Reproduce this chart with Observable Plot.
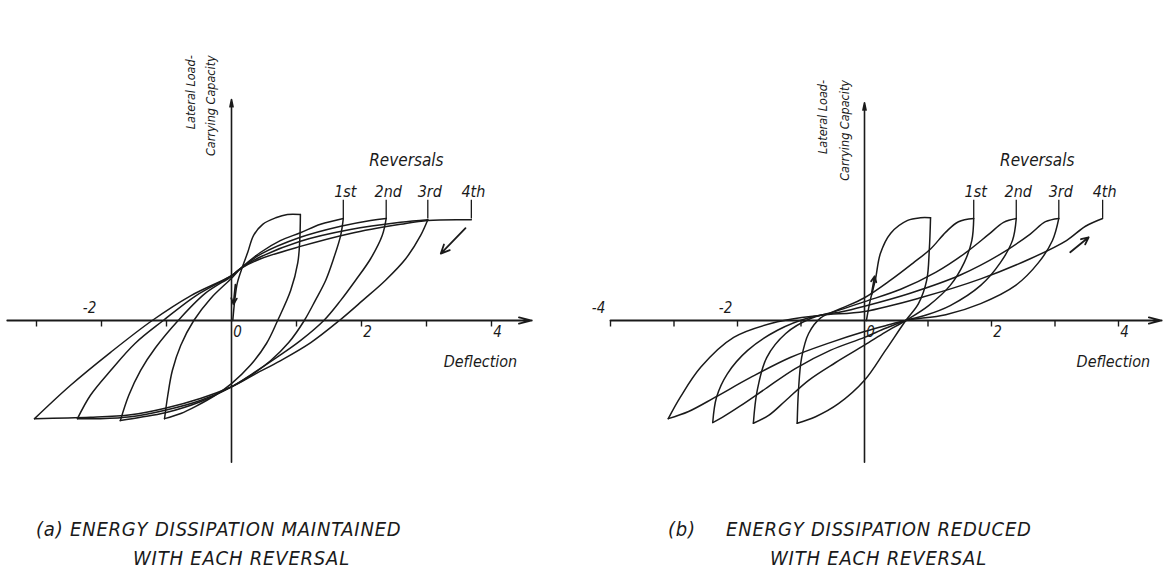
<!DOCTYPE html>
<html><head><meta charset="utf-8">
<script src="https://cdn.jsdelivr.net/npm/d3@7"></script>
<script src="https://cdn.jsdelivr.net/npm/@observablehq/plot@0.6"></script>
<style>
html,body{margin:0;padding:0;background:#fff;}
#wrap{position:relative;width:1166px;height:575px;overflow:hidden;background:#fff;}
.panel{position:absolute;top:0;}
.cap{position:absolute;font-family:"Liberation Sans Narrow","DejaVu Sans Condensed","DejaVu Sans",sans-serif;font-style:italic;font-size:20px;letter-spacing:0.8px;color:#1a1a1a;white-space:pre;line-height:1;}
</style></head><body><div id="wrap"></div>
<script>
// ---------- data (deflection units on x, load units on y) ----------
const ORDINALS = ["1st", "2nd", "3rd", "4th"];
const Y_TITLE = ["Lateral Load-", "Carrying Capacity"];

// Panel (a): energy dissipation maintained
const A_INITIAL = [[0.02,0],[0.05,0.31],[0.09,0.58],[0.17,0.83],[0.25,1.05],[0.34,1.31],[0.48,1.48],[0.68,1.58],[0.86,1.63],[1.06,1.63]];
const A_DOWN0 = [[1.06,1.63],[1.05,1.23],[1.02,0.89],[0.91,0.46],[0.71,0],[0.54,-0.35],[0.29,-0.69],[0,-0.97],[-0.25,-1.15],[-0.55,-1.32],[-0.78,-1.43],[-1.03,-1.51]];
const A_UP1 = [[-1.03,-1.51],[-0.98,-1.15],[-0.91,-0.77],[-0.78,-0.38],[-0.58,0],[-0.32,0.34],[0,0.65],[0.14,0.80],[0.45,1.05],[0.75,1.23],[1.06,1.35],[1.37,1.48],[1.72,1.57]];
const A_DOWN1 = [[1.72,1.57],[1.68,1.31],[1.57,0.95],[1.45,0.62],[1.29,0.31],[1.12,0],[0.88,-0.34],[0.60,-0.62],[0.29,-0.85],[0,-1.02],[-0.48,-1.25],[-1.02,-1.42],[-1.40,-1.49],[-1.71,-1.54]];
const A_UP2 = [[-1.71,-1.54],[-1.58,-1.15],[-1.40,-0.77],[-1.17,-0.42],[-0.82,0],[-0.40,0.42],[0,0.68],[0.14,0.80],[0.45,1.02],[1.06,1.28],[1.68,1.45],[2.14,1.54],[2.38,1.57]];
const A_DOWN2 = [[2.38,1.57],[2.32,1.31],[2.14,0.95],[1.91,0.62],[1.68,0.31],[1.42,0],[1.06,-0.31],[0.68,-0.58],[0.32,-0.82],[0,-1.02],[-0.48,-1.23],[-1.02,-1.38],[-1.55,-1.48],[-2.02,-1.51],[-2.37,-1.51]];
const A_UP3 = [[-2.37,-1.51],[-2.17,-1.15],[-1.86,-0.77],[-1.48,-0.35],[-1.05,0],[-0.55,0.38],[0,0.69],[0.14,0.80],[0.45,0.98],[1.06,1.22],[1.83,1.40],[2.60,1.51],[3.02,1.55]];
const A_DOWN3 = [[3.02,1.55],[2.91,1.31],[2.68,0.95],[2.37,0.62],[2.02,0.31],[1.66,0],[1.22,-0.34],[0.75,-0.62],[0.37,-0.82],[0,-1.02],[-0.48,-1.20],[-1.02,-1.35],[-1.55,-1.45],[-2.17,-1.49],[-3.03,-1.51]];
const A_UP4 = [[-3.03,-1.51],[-2.48,-1.0],[-1.86,-0.49],[-1.22,0],[-0.63,0.38],[0,0.69],[0.14,0.80],[0.45,0.95],[1.06,1.14],[1.83,1.34],[2.60,1.48],[3.02,1.54],[3.69,1.55]];
const A_PEAKS = [1.72, 2.38, 3.02, 3.69];
const A_ARROWS = [{x1:3.6,y1:1.42,x2:3.22,y2:1.03},{x1:0.06,y1:0.55,x2:0.03,y2:0.25}];
const A_TICKS = [-3,-2,-1,1,2,3,4];
const A_NEG_LABELS = [-2];
const A_POS_LABELS = [0,2,4];

// Panel (b): energy dissipation reduced
const B_INITIAL = [[0.03,0],[0.09,0.31],[0.17,0.62],[0.25,1.03],[0.41,1.34],[0.68,1.54],[0.88,1.58],[1.04,1.58]];
const B_DOWN0 = [[1.04,1.58],[1.02,1.08],[0.98,0.62],[0.85,0.26],[0.65,0],[0.33,-0.46],[0,-0.92],[-0.41,-1.28],[-0.77,-1.48],[-1.06,-1.58]];
const B_UP1 = [[-1.06,-1.58],[-1.04,-1.08],[-0.99,-0.57],[-0.88,-0.20],[-0.69,0.04],[-0.38,0.18],[0,0.35],[0.41,0.62],[0.76,0.88],[1.04,1.10],[1.28,1.36],[1.48,1.52],[1.72,1.57]];
const B_DOWN1 = [[1.72,1.57],[1.69,1.23],[1.57,0.89],[1.35,0.54],[1.01,0.23],[0.65,0],[0.33,-0.18],[0,-0.38],[-0.46,-0.65],[-0.88,-0.92],[-1.24,-1.23],[-1.51,-1.46],[-1.75,-1.58]];
const B_UP2 = [[-1.75,-1.58],[-1.69,-1.08],[-1.54,-0.57],[-1.24,-0.20],[-0.85,0.03],[-0.46,0.14],[0,0.29],[0.57,0.48],[1.12,0.74],[1.59,1.04],[1.95,1.32],[2.19,1.51],[2.39,1.57]];
const B_DOWN2 = [[2.39,1.57],[2.33,1.23],[2.14,0.89],[1.83,0.54],[1.35,0.23],[0.96,0.08],[0.65,0],[0.33,-0.12],[0,-0.26],[-0.54,-0.46],[-1.09,-0.74],[-1.56,-1.05],[-1.95,-1.31],[-2.24,-1.49],[-2.39,-1.57]];
const B_UP3 = [[-2.39,-1.57],[-2.33,-1.18],[-2.16,-0.82],[-1.84,-0.46],[-1.37,-0.15],[-0.85,0.05],[-0.38,0.13],[0,0.22],[0.72,0.42],[1.51,0.70],[2.14,1.02],[2.61,1.33],[2.85,1.52],[3.06,1.57]];
const B_DOWN3 = [[3.06,1.57],[2.96,1.23],[2.74,0.89],[2.38,0.54],[1.83,0.26],[1.28,0.09],[0.65,0],[0.33,-0.08],[0,-0.17],[-0.54,-0.34],[-1.17,-0.57],[-1.80,-0.88],[-2.35,-1.18],[-2.77,-1.40],[-3.09,-1.51]];
const B_UP4 = [[-3.09,-1.51],[-2.90,-1.18],[-2.58,-0.72],[-2.06,-0.26],[-1.37,-0.02],[-0.69,0.08],[0,0.14],[0.88,0.35],[1.83,0.64],[2.61,0.95],[3.18,1.23],[3.48,1.45],[3.75,1.57]];
const B_PEAKS = [1.72, 2.39, 3.06, 3.75];
const B_ARROWS = [{x1:3.24,y1:1.05,x2:3.53,y2:1.28},{x1:0.11,y1:0.40,x2:0.16,y2:0.68}];
const B_TICKS = [-4,-3,-2,-1,1,2,3,4];
const B_NEG_LABELS = [-4,-2];
const B_POS_LABELS = [0,2,4];

// ---------- layout ----------
const W = 583, H = 480, AXIS_PY = 320, UNIT_Y = 65;
const INK = "#1a1a1a";
const FONT = '"Liberation Sans Narrow","DejaVu Sans Condensed","DejaVu Sans",sans-serif';

function makePanel(c) {
  const rows = c.curves.flatMap(([name, pts]) => pts.map(([x, y]) => ({name, x, y})));
  return Plot.plot({
    width: W, height: H, margin: 0,
    x: {axis: null, domain: [-c.originPx / c.unit, (W - c.originPx) / c.unit]},
    y: {axis: null, domain: [-(H - AXIS_PY) / UNIT_Y, AXIS_PY / UNIT_Y]},
    style: {fontFamily: FONT, fontStyle: "italic", color: INK, background: "transparent", overflow: "visible"},
    marks: [
      Plot.arrow([c.axisX], {x1: d => d[0], x2: d => d[1], y1: 0, y2: 0, stroke: INK, strokeWidth: 1.8, headLength: 11, headAngle: 28}),
      Plot.arrow([c.axisY], {x1: 0, x2: 0, y1: d => d[0], y2: d => d[1], stroke: INK, strokeWidth: 1.6, headLength: 7, headAngle: 24}),
      Plot.ruleX(c.ticks, {x: d => d, y1: 0, y2: -0.1, stroke: INK, strokeWidth: 1.4}),
      Plot.text(c.negLabels, {x: d => d, y: 0, text: d => "-" + Math.abs(d), dx: -12, dy: -12, fontSize: 15, fill: INK}),
      Plot.text(c.posLabels, {x: d => d, y: 0, text: d => String(d), dx: 6, dy: 12, fontSize: 15, fill: INK}),
      Plot.line(rows, {x: "x", y: "y", z: "name", curve: "catmull-rom", stroke: INK, strokeWidth: 1.5}),
      Plot.ruleX(c.peaks, {x: d => d, y1: c.plateau, y2: 1.85, stroke: INK, strokeWidth: 1.3}),
      Plot.text(c.peaks, {x: d => d, y: 1.98, text: (d, i) => ORDINALS[i], dx: 2, fontSize: 16, fill: INK}),
      Plot.text(["Reversals"], {x: c.reversalsX, y: 2.46, text: d => d, fontSize: 17, fill: INK}),
      Plot.text(["Deflection"], {x: c.deflectionX, y: -0.63, text: d => d, fontSize: 16, fill: INK}),
      Plot.text(Y_TITLE, {x: (d, i) => c.yTitleX[i], y: c.yTitleTop, text: d => d, rotate: -90, textAnchor: "end", fontSize: 12.5, fill: INK}),
      Plot.arrow(c.arrows, {x1: "x1", y1: "y1", x2: "x2", y2: "y2", stroke: INK, strokeWidth: 1.8, headLength: 8, headAngle: 50})
    ]
  });
}

const panelA = makePanel({
  originPx: 231, unit: 65,
  curves: [["i", A_INITIAL], ["d0", A_DOWN0], ["u1", A_UP1], ["d1", A_DOWN1], ["u2", A_UP2], ["d2", A_DOWN2], ["u3", A_UP3], ["d3", A_DOWN3], ["u4", A_UP4]],
  peaks: A_PEAKS, plateau: 1.56, arrows: A_ARROWS,
  ticks: A_TICKS, negLabels: A_NEG_LABELS, posLabels: A_POS_LABELS,
  axisX: [-3.45, 4.62], axisY: [-2.18, 3.4],
  reversalsX: 2.69, deflectionX: 3.83, yTitleX: [-0.63, -0.31], yTitleTop: 4.08
});
const panelB = makePanel({
  originPx: 281, unit: 63.5,
  curves: [["i", B_INITIAL], ["d0", B_DOWN0], ["u1", B_UP1], ["d1", B_DOWN1], ["u2", B_UP2], ["d2", B_DOWN2], ["u3", B_UP3], ["d3", B_DOWN3], ["u4", B_UP4]],
  peaks: B_PEAKS, plateau: 1.57, arrows: B_ARROWS,
  ticks: B_TICKS, negLabels: B_NEG_LABELS, posLabels: B_POS_LABELS,
  axisX: [-4, 4.68], axisY: [-2.18, 3.35],
  reversalsX: 2.72, deflectionX: 3.92, yTitleX: [-0.66, -0.3], yTitleTop: 3.7
});

const wrap = document.getElementById("wrap");
panelA.classList.add("panel"); panelA.style.left = "0px";
panelB.classList.add("panel"); panelB.style.left = W + "px";
wrap.append(panelA, panelB);

const CAPTIONS = [
  ["(a) ENERGY DISSIPATION MAINTAINED", 36, 519],
  ["WITH EACH REVERSAL", 133, 548],
  ["(b)", 668, 519],
  ["ENERGY DISSIPATION REDUCED", 726, 519],
  ["WITH EACH REVERSAL", 770, 548]
];
for (const [t, left, top] of CAPTIONS) {
  const d = document.createElement("div");
  d.className = "cap"; d.textContent = t;
  d.style.left = left + "px"; d.style.top = top + "px";
  wrap.append(d);
}
</script></body></html>
